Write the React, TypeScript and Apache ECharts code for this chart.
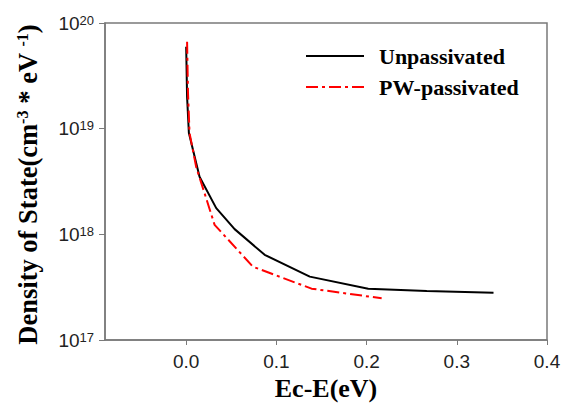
import React, { useEffect, useRef } from "react";
import * as echarts from "echarts";

const unpassX = [0.0, 0.001, 0.003, 0.0148, 0.0333, 0.0537, 0.087, 0.137, 0.2018, 0.2667, 0.3407];
const unpassY = [5.97e19, 2.0e19, 9.1e18, 3.5e18, 1.77e18, 1.12e18, 6.4e17, 3.98e17, 3.06e17, 2.91e17, 2.8e17];
const pwX = [0.001, 0.002, 0.0037, 0.011, 0.0315, 0.074, 0.139, 0.2167];
const pwY = [6.66e19, 2.2e19, 9.1e18, 4.37e18, 1.23e18, 4.94e17, 3.06e17, 2.48e17];
const xTicks = [0, 0.1, 0.2, 0.3, 0.4];
const seriesNames = ["Unpassivated", "PW-passivated"];

export default function App() {
  const ref = useRef<HTMLDivElement>(null);
  useEffect(() => {
    if (!ref.current) return;
    const chart = echarts.init(ref.current, undefined, { renderer: "svg" });
    const axisGray = "#7a7a7a";
    chart.setOption({
      animation: false,
      backgroundColor: "#ffffff",
      grid: {
        left: 105, right: 16, top: 23, bottom: 64,
        outerBoundsMode: "none",
        containLabel: false,
        show: true, borderColor: axisGray, borderWidth: 1.5, backgroundColor: "transparent",
      },
      legend: {
        orient: "vertical",
        left: 300, top: 40,
        itemWidth: 58, itemHeight: 14, itemGap: 9,
        itemStyle: { opacity: 0, borderWidth: 0 },
        textStyle: { fontFamily: "Liberation Serif", fontWeight: "bold", fontSize: 22, color: "#000", padding: [0, 0, 0, 10] },
        data: seriesNames,
      },
      xAxis: {
        type: "value",
        min: -0.09, max: 0.4,
        splitLine: { show: false },
        axisLine: { onZero: false, lineStyle: { color: axisGray, width: 1.5 } },
        axisTick: { show: true, inside: false, length: 5, customValues: xTicks, lineStyle: { color: axisGray } },
        axisLabel: {
          customValues: xTicks,
          formatter: (v: number) => v.toFixed(1),
          fontFamily: "Liberation Sans", fontSize: 19, color: "#222", margin: 12,
        },
        name: "Ec-E(eV)",
        nameLocation: "middle",
        nameGap: 33,
        nameTextStyle: { fontFamily: "Liberation Serif", fontWeight: "bold", fontSize: 26, color: "#000" },
      },
      yAxis: {
        type: "log",
        logBase: 10,
        min: 1e17, max: 1e20,
        splitLine: { show: false },
        minorTick: { show: false },
        axisLine: { onZero: false, lineStyle: { color: axisGray, width: 1.5 } },
        axisTick: { show: true, inside: false, length: 6, lineStyle: { color: axisGray } },
        axisLabel: {
          formatter: (v: number) => "10{sup|" + Math.round(Math.log10(v)) + "}",
          fontFamily: "Liberation Sans", fontSize: 19, color: "#222", margin: 11,
          rich: {
            sup: { fontFamily: "Liberation Sans", fontSize: 13, color: "#222", verticalAlign: "top", lineHeight: 12 },
          },
        },
        name: "Density of State(cm{sup|-3} * eV {sup|-1})",
        nameLocation: "middle",
        nameGap: 64,
        nameTextStyle: {
          fontFamily: "Liberation Serif", fontWeight: "bold", fontSize: 26.5, color: "#000",
          padding: [0, 6, 0, 0],
          rich: {
            sup: { fontFamily: "Liberation Serif", fontWeight: "bold", fontSize: 16, color: "#000", verticalAlign: "top", lineHeight: 14 },
          },
        },
      },
      series: [
        {
          name: seriesNames[0],
          type: "line",
          showSymbol: false,
          symbol: "none",
          data: unpassX.map((x, i) => [x, unpassY[i]]),
          lineStyle: { color: "#000", width: 2 },
          itemStyle: { color: "#000" },
        },
        {
          name: seriesNames[1],
          type: "line",
          showSymbol: false,
          symbol: "none",
          data: pwX.map((x, i) => [x, pwY[i]]),
          lineStyle: { color: "#ff0000", width: 2, type: [12, 4, 3, 4] },
          itemStyle: { color: "#ff0000" },
        },
      ],
    });
    return () => chart.dispose();
  }, []);
  return <div ref={ref} style={{ width: 563, height: 404, position: "absolute", left: 0, top: 0 }} />;
}
